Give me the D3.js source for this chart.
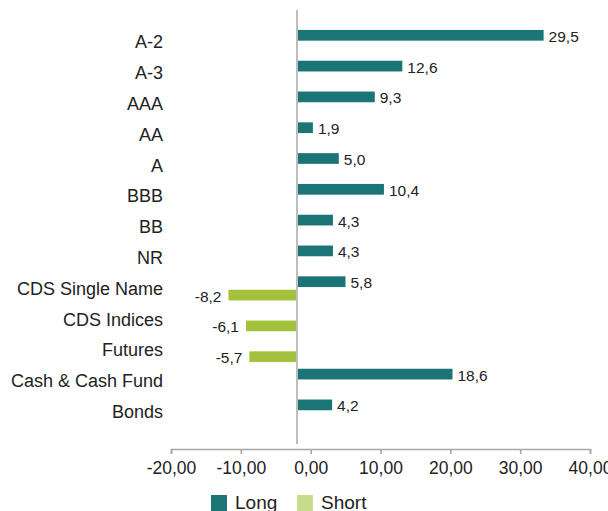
<!DOCTYPE html>
<html>
<head>
<meta charset="utf-8">
<script src="https://cdn.jsdelivr.net/npm/d3@7"></script>
<style>
  body { margin: 0; background: #fff; }
  text { font-family: "Liberation Sans", Arial, sans-serif; fill: #222; }
</style>
</head>
<body>
<div id="chart"></div>
<script>
// Categories and values
var categories = ["A-2", "A-3", "AAA", "AA", "A", "BBB", "BB", "NR",
                  "CDS Single Name", "CDS Indices", "Futures", "Cash & Cash Fund", "Bonds"];
var longValues  = [29.5, 12.6, 9.3, 1.9, 5.0, 10.4, 4.3, 4.3, 5.8, null, null, 18.6, 4.2];
var shortValues = [null, null, null, null, null, null, null, null, -8.2, -6.1, -5.7, null, null];
var seriesNames = ["Long", "Short"];
var axisTicks = [-20, -10, 0, 10, 20, 30, 40];

var width = 608, height = 511;

var colors = { "Long": "#1b7576", "Short": "#a3c13c" };
var legendColors = { "Long": "#1b7576", "Short": "#c8dc8e" };

// comma decimals, plain hyphen for minus
var locale = d3.formatLocale({ decimal: ",", thousands: ".", grouping: [3], currency: ["", "€"], minus: "-" });
var fmt1 = locale.format(".1f");
var fmt2 = locale.format(".2f");

var svg = d3.select("#chart").append("svg")
    .attr("width", width)
    .attr("height", height);

// Title, mostly cut off at the top of the picture
svg.append("text")
    .attr("x", 88)
    .attr("y", -5)
    .attr("text-anchor", "end")
    .style("font-size", "18px")
    .style("font-weight", "bold")
    .style("font-style", "italic")
    .style("fill", "#1b8a8c")
    .text("Exposure by");

// Bars use their own scale, the axis below uses a separate one (as in the original)
var xBar = d3.scaleLinear().domain([0, 10]).range([297, 380.6]);
var xAxis = d3.scaleLinear().domain([-20, 40]).range([171, 590]);

var y = d3.scaleBand()
    .domain(categories)
    .range([26.6, 427]);

var y1 = d3.scaleBand()
    .domain(seriesNames)
    .range([2, y.bandwidth() - 2])
    .paddingInner(0.2)
    .paddingOuter(0.1);

var rows = categories.map(function(c, i) {
    return { cat: c, Long: longValues[i], Short: shortValues[i] };
});

var bars = [];
rows.forEach(function(r) {
    seriesNames.forEach(function(k) {
        if (r[k] != null) bars.push({ cat: r.cat, key: k, value: r[k] });
    });
});

// Zero line
svg.append("line")
    .attr("x1", xBar(0)).attr("x2", xBar(0))
    .attr("y1", 10).attr("y2", 444)
    .style("stroke", "#bdbdbd")
    .style("stroke-width", 2);

svg.selectAll(".bar")
    .data(bars)
    .enter().append("rect")
    .attr("class", "bar")
    .attr("x", function(d) { return Math.min(xBar(0) + 1, xBar(d.value)); })
    .attr("width", function(d) { return Math.abs(xBar(d.value) - xBar(0)) - 1; })
    .attr("y", function(d) { return y(d.cat) + y1(d.key); })
    .attr("height", y1.bandwidth())
    .style("fill", function(d) { return colors[d.key]; });

// Value labels
svg.selectAll(".val")
    .data(bars)
    .enter().append("text")
    .attr("class", "val")
    .attr("x", function(d) { return d.value >= 0 ? xBar(d.value) + 5 : xBar(d.value) - 7; })
    .attr("y", function(d) { return y(d.cat) + y1(d.key) + y1.bandwidth() / 2 + 1; })
    .attr("dy", "0.35em")
    .attr("text-anchor", function(d) { return d.value >= 0 ? "start" : "end"; })
    .style("font-size", "15.5px")
    .text(function(d) { return fmt1(d.value); });

// Category labels
svg.selectAll(".cat")
    .data(categories)
    .enter().append("text")
    .attr("class", "cat")
    .attr("x", 163)
    .attr("y", function(d) { return y(d) + y.bandwidth() / 2; })
    .attr("dy", "0.35em")
    .attr("text-anchor", "end")
    .style("font-size", "18px")
    .text(function(d) { return d; });

// X axis
var gx = svg.append("g")
    .attr("transform", "translate(0,449)")
    .call(d3.axisBottom(xAxis)
        .tickValues(axisTicks)
        .tickSize(5)
        .tickPadding(8)
        .tickFormat(function(d) { return fmt2(d); }));

gx.select(".domain").style("stroke", "#a6a6a6").style("stroke-width", 1.6);
gx.selectAll(".tick line").style("stroke", "#a6a6a6").style("stroke-width", 1.6);
gx.selectAll(".tick text")
    .style("font-size", "17.5px")
    .style("font-family", "'Liberation Sans', Arial, sans-serif")
    .style("fill", "#222");

// Legend
var legendX = { "Long": 211, "Short": 297 };
var legend = svg.selectAll(".legend")
    .data(seriesNames)
    .enter().append("g")
    .attr("class", "legend")
    .attr("transform", function(d) { return "translate(" + legendX[d] + ",495)"; });

legend.append("rect")
    .attr("width", 16)
    .attr("height", 16)
    .style("fill", function(d) { return legendColors[d]; });

legend.append("text")
    .attr("x", 24)
    .attr("y", 14)
    .style("font-size", "19px")
    .text(function(d) { return d; });
</script>
</body>
</html>
